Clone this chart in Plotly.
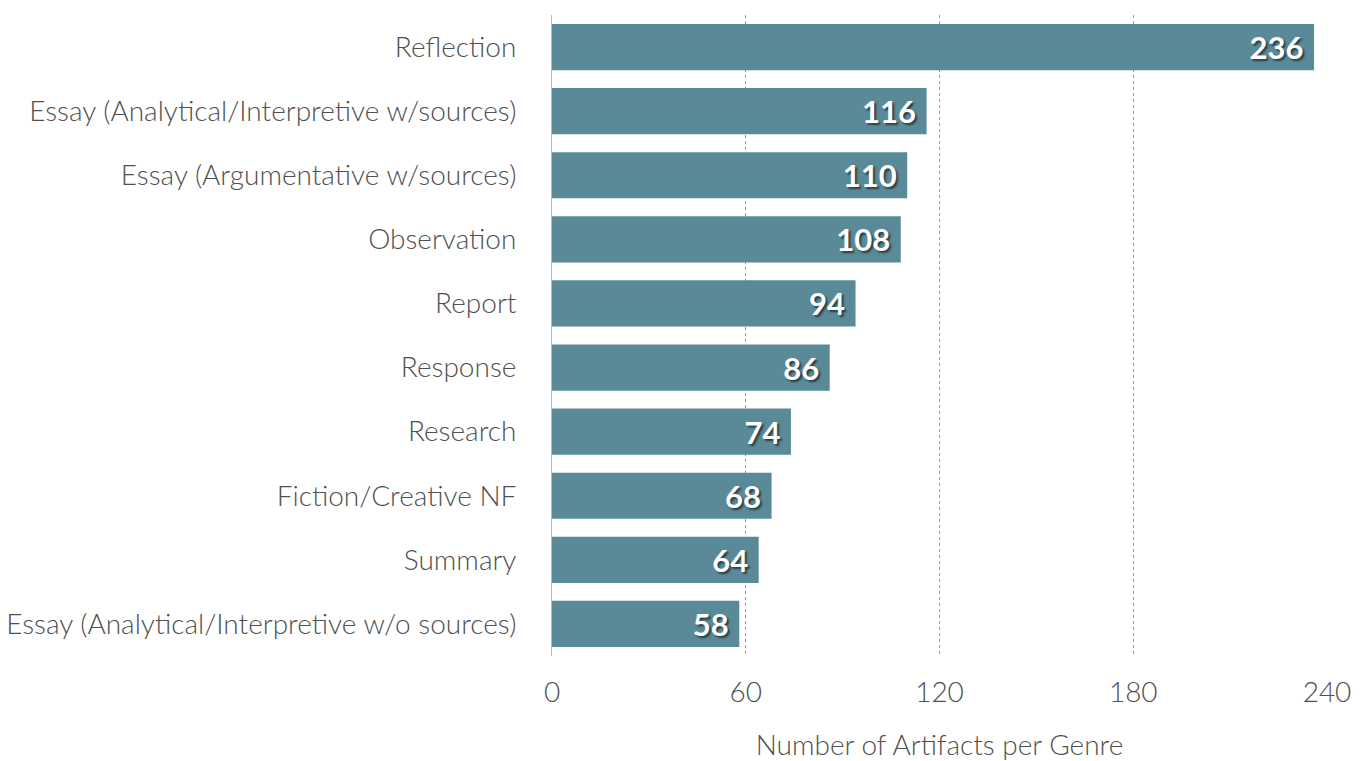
import plotly.graph_objects as go

genres = [
    "Reflection",
    "Essay (Analytical/Interpretive w/sources)",
    "Essay (Argumentative w/sources)",
    "Observation",
    "Report",
    "Response",
    "Research",
    "Fiction/Creative NF",
    "Summary",
    "Essay (Analytical/Interpretive w/o sources)",
]
artifact_counts = [236, 116, 110, 108, 94, 86, 74, 68, 64, 58]
x_ticks = [0, 60, 120, 180, 240]

label_font = dict(family="Lato", size=28, color="#505050", weight=300)

fig = go.Figure(
    go.Bar(
        x=artifact_counts,
        y=genres,
        orientation="h",
        width=0.72,
        marker=dict(color="#5a8a98", line=dict(width=0)),
        text=[f"{v} " for v in artifact_counts],
        textposition="inside",
        insidetextanchor="end",
        textangle=0,
        textfont=dict(family="Lato", size=31, color="white", weight="bold",
                      shadow="2px 2px 2px rgba(0,0,0,0.55)"),
        cliponaxis=False,
        hoverinfo="skip",
    )
)

fig.update_layout(
    width=1363,
    height=761,
    margin=dict(l=552, r=36, t=15, b=105),
    paper_bgcolor="white",
    plot_bgcolor="white",
    showlegend=False,
    font=label_font,
)

fig.update_xaxes(
    range=[0, 240],
    tickvals=x_ticks,
    ticktext=[str(t) for t in x_ticks],
    showgrid=True,
    gridcolor="#9a9a9a",
    griddash="dot",
    gridwidth=1,
    zeroline=False,
    showline=False,
    ticks="",
    automargin=False,
    ticklabelstandoff=17,
    tickfont=label_font,
    title=dict(text="Number of Artifacts per Genre", standoff=31, font=label_font),
)

fig.update_yaxes(
    autorange="reversed",
    range=[9.5, -0.5],
    showgrid=False,
    showline=True,
    linecolor="#b8b8b8",
    linewidth=1,
    ticks="",
    automargin=False,
    ticklabelstandoff=29,
    tickfont=label_font,
)

fig.write_html("out.html")
